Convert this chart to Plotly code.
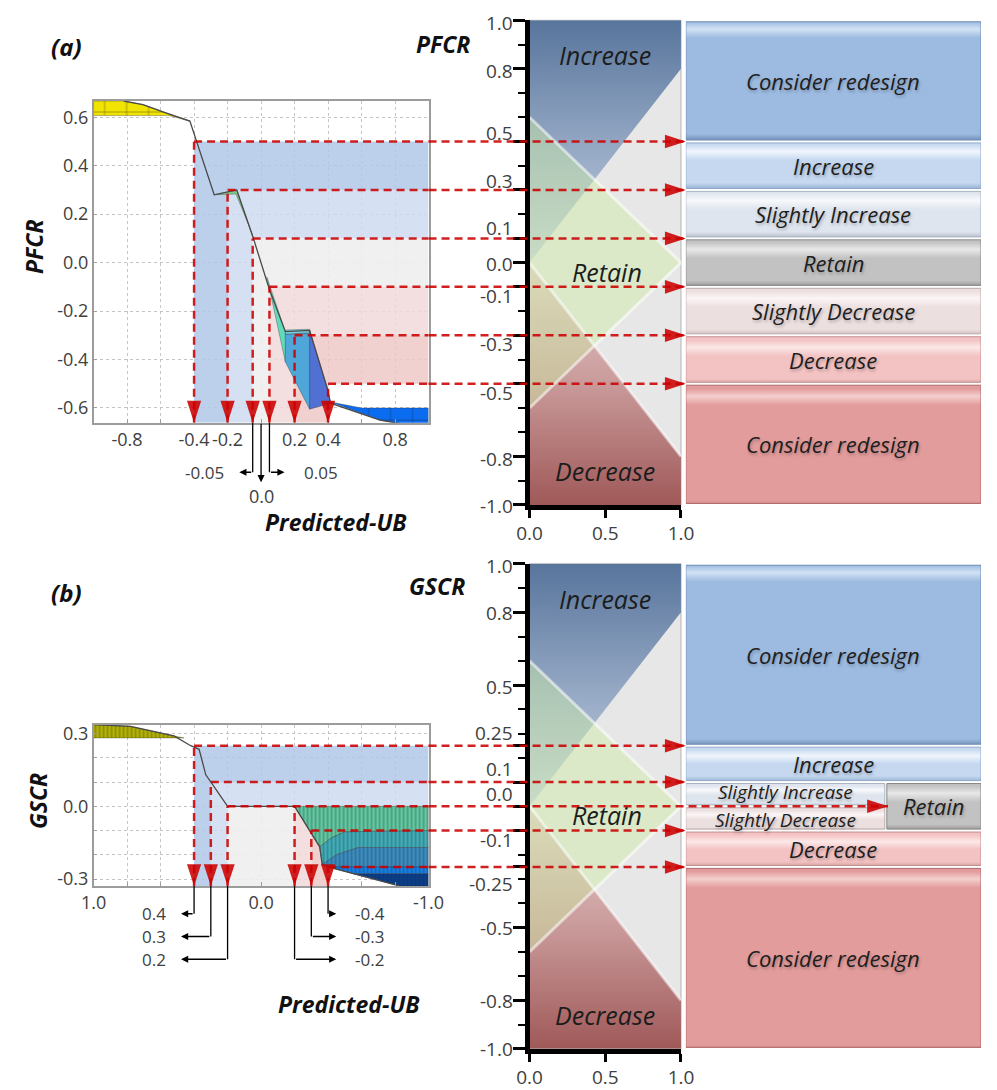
import plotly.graph_objects as go

W, H = 997, 1090
FONT = "Open Sans"

# ------------------------------------------------------------------ data
# membership functions of the linguistic scale (membership degree, value)
MF_INCREASE_MU = [0.0, 1.0, 1.0, 0.0]
MF_INCREASE_V = [0.0, 0.8, 1.0, 1.0]
MF_RETAIN_MU = [0.0, 1.0, 0.0]
MF_RETAIN_V = [0.6, 0.0, -0.6]
MF_DECREASE_MU = [0.0, 1.0, 1.0, 0.0]
MF_DECREASE_V = [0.0, -0.8, -1.0, -1.0]
MF_NAMES = ["Increase", "Retain", "Decrease"]
SCALE_X_TICKS = [0.0, 0.5, 1.0]
SCALE_X_TEXT = ["0.0", "0.5", "1.0"]

# (a) PFCR section of the response surface
PFCR_LINE_X = [-0.82, -0.705, -0.57, -0.425, -0.28, -0.145, -0.048, 0.048, 0.145, 0.29, 0.396, 0.415, 0.71, 0.85]
PFCR_LINE_Y = [0.667, 0.652, 0.618, 0.584, 0.28, 0.30, 0.105, -0.107, -0.285, -0.28, -0.52, -0.58, -0.65, -0.667]
PFCR_YELLOW_X = [-1.0, -0.82, -0.705, -0.57, -0.425, -0.55, -1.0]
PFCR_YELLOW_Y = [0.667, 0.667, 0.652, 0.618, 0.584, 0.607, 0.607]
PFCR_GREEN_X = [-0.28, -0.145, -0.048, -0.065, -0.15]
PFCR_GREEN_Y = [0.28, 0.30, 0.105, 0.14, 0.283]
PFCR_TEAL_X = [0.035, 0.145, 0.145]
PFCR_TEAL_Y = [-0.06, -0.285, -0.41]
PFCR_CYAN_X = [0.145, 0.29, 0.29, 0.145]
PFCR_CYAN_Y = [-0.295, -0.29, -0.605, -0.41]
PFCR_CYANTOP_X = [0.145, 0.29, 0.29, 0.145]
PFCR_CYANTOP_Y = [-0.278, -0.275, -0.29, -0.295]
PFCR_ROYAL_X = [0.29, 0.396, 0.415, 0.29]
PFCR_ROYAL_Y = [-0.28, -0.52, -0.58, -0.605]
PFCR_BLUE_X = [0.415, 0.6, 1.0, 1.0, 0.85, 0.71]
PFCR_BLUE_Y = [-0.575, -0.6, -0.6, -0.667, -0.667, -0.65]
PFCR_CUT_X = [-0.4, -0.2, -0.05, 0.05, 0.2, 0.4]
PFCR_CUT_Y = [0.5, 0.3, 0.1, -0.1, -0.3, -0.5]
PFCR_X_TICKS = [-0.8, -0.6, -0.4, -0.2, 0.0, 0.2, 0.4, 0.6, 0.8]
PFCR_X_TEXT = ["-0.8", "", "-0.4", "-0.2", "", "0.2", "0.4", "", "0.8"]
PFCR_Y_TICKS = [0.6, 0.4, 0.2, 0.0, -0.2, -0.4, -0.6]
PFCR_Y_TEXT = ["0.6", "0.4", "0.2", "0.0", "-0.2", "-0.4", "-0.6"]
PFCR_SCALE_TICKS = [1.0, 0.8, 0.5, 0.3, 0.1, 0.0, -0.1, -0.3, -0.5, -0.8, -1.0]
PFCR_SCALE_TEXT = ["1.0", "0.8", "0.5", "0.3", "0.1", "0.0", "-0.1", "-0.3", "-0.5", "-0.8", "-1.0"]
PFCR_CALLOUTS = [-0.05, 0.0, 0.05]
PFCR_BOX_TOP = [1.0, 0.5, 0.3, 0.1, -0.1, -0.3, -0.5]
PFCR_BOX_BOTTOM = [0.5, 0.3, 0.1, -0.1, -0.3, -0.5, -1.0]
PFCR_BOX_LABELS = ["Consider redesign", "Increase", "Slightly Increase", "Retain",
                   "Slightly Decrease", "Decrease", "Consider redesign"]

# (b) GSCR section of the response surface (Predicted-UB axis runs 1 -> -1)
GSCR_LINE_X = [1.0, 0.78, 0.52, 0.42, 0.37, 0.33, 0.29, 0.2, -0.2, -0.35, -0.365, -0.4, -0.83]
GSCR_LINE_Y = [0.337, 0.33, 0.29, 0.25, 0.235, 0.13, 0.09, 0.0, 0.0, -0.167, -0.24, -0.25, -0.329]
GSCR_OLIVE_X = [1.0, 0.78, 0.52, 0.46, 1.0]
GSCR_OLIVE_Y = [0.337, 0.33, 0.29, 0.282, 0.282]
GSCR_TG_X = [-0.2, -1.0, -1.0, -0.5, -0.42, -0.35]
GSCR_TG_Y = [0.0, 0.0, -0.1, -0.105, -0.13, -0.167]
GSCR_TEAL_X = [-0.35, -0.42, -0.5, -1.0, -1.0, -0.58, -0.45, -0.365]
GSCR_TEAL_Y = [-0.167, -0.13, -0.105, -0.1, -0.17, -0.17, -0.2, -0.24]
GSCR_STEEL_X = [-0.365, -0.45, -0.58, -1.0, -1.0, -0.4]
GSCR_STEEL_Y = [-0.24, -0.2, -0.17, -0.17, -0.25, -0.25]
GSCR_BRIGHT_X = [-0.4, -1.0, -1.0, -0.552]
GSCR_BRIGHT_Y = [-0.25, -0.25, -0.278, -0.278]
GSCR_NAVY_X = [-0.552, -1.0, -1.0, -0.83]
GSCR_NAVY_Y = [-0.278, -0.278, -0.329, -0.329]
GSCR_CUT_X = [0.4, 0.3, 0.2, -0.2, -0.3, -0.4]
GSCR_CUT_Y = [0.25, 0.1, 0.0, 0.0, -0.1, -0.25]
GSCR_X_TICKS = [1.0, 0.8, 0.6, 0.4, 0.2, 0.0, -0.2, -0.4, -0.6, -0.8, -1.0]
GSCR_X_TEXT = ["1.0", "", "", "", "", "0.0", "", "", "", "", "-1.0"]
GSCR_Y_TICKS = [0.3, 0.2, 0.1, 0.0, -0.1, -0.2, -0.3]
GSCR_Y_TEXT = ["0.3", "", "", "0.0", "", "", "-0.3"]
GSCR_SCALE_TICKS = [1.0, 0.8, 0.5, 0.25, 0.1, 0.0, -0.1, -0.25, -0.5, -0.8, -1.0]
GSCR_SCALE_TEXT = ["1.0", "0.8", "0.5", "0.25", "0.1", "0.0", "-0.1", "-0.25", "-0.5", "-0.8", "-1.0"]
GSCR_CALLOUTS = [0.4, 0.3, 0.2, -0.2, -0.3, -0.4]
GSCR_BOX_TOP = [1.0, 0.25, 0.1, 0.0, -0.1, -0.25, 0.1]
GSCR_BOX_BOTTOM = [0.25, 0.1, 0.0, -0.1, -0.25, -1.0, -0.1]
GSCR_BOX_LABELS = ["Consider redesign", "Increase", "Slightly Increase", "Slightly Decrease",
                   "Decrease", "Consider redesign", "Retain"]

# ------------------------------------------------------------------ style
LEFT_X_PX = (83, 428)
SCALE_X_PX = (532, 688)
BOX_X_PX = (693, 997)

BAND_COLORS = ["rgba(176,200,232,0.85)", "rgba(206,220,241,0.85)", "rgba(238,238,238,0.9)",
               "rgba(241,217,217,0.85)", "rgba(238,200,200,0.85)"]
RED = "rgba(204,0,0,0.88)"
DASH = dict(color=RED, width=2.5, dash="8px,5px")

BOX_STYLE = {  # body, highlight, dark edge
    "blue_redesign": ("#9dbbe1", "#d2e2f4", "#6d8bb3"),
    "increase": ("#c5d8f0", "#f0f5fc", "#8ea8c8"),
    "slight_inc": ("#dfe5ee", "#f7f9fb", "#a9b3c1"),
    "retain": ("#c2c2c2", "#e8e8e8", "#878787"),
    "slight_dec": ("#ecdfe0", "#fbf5f5", "#bda9aa"),
    "decrease": ("#f3c2c2", "#fce8e8", "#c38f8f"),
    "red_redesign": ("#e39c9c", "#f4cfcf", "#ae6868"),
}
MF_LABEL_POS = [(0.5, 0.855), (0.51, -0.037), (0.5, -0.86)]


def dom_x(px):
    return [px[0] / W, px[1] / W]


def dom_y(px):
    return [1 - px[1] / H, 1 - px[0] / H]


def val_from_px(p, span):
    top, bot = span
    return 1.0 - 2.0 * (p - top) / (bot - top)


def axis_key(a):
    return ("xaxis" if a[0] == "x" else "yaxis") + a[1:]


def font(size=18, color="#404040", bold=False, italic=False, shadow=None):
    f = dict(family=FONT, size=size, color=color)
    if bold:
        f["weight"] = "bold"
    if italic:
        f["style"] = "italic"
    if shadow:
        f["shadow"] = shadow
    return f


fig = go.Figure()
shapes, annots, axes = [], [], {}


def text(x, y, s, xref="paper", yref="paper", f=None, **kw):
    kw.setdefault("yanchor", "middle")
    kw.setdefault("xanchor", "center")
    annots.append(dict(x=x, y=y, xref=xref, yref=yref, text=s, showarrow=False,
                       font=f or font(), borderpad=0, **kw))


def poly(xs, ys, xa, ya, color, edge=None, pattern=None, gradient=None):
    kw = {}
    if pattern:
        kw["fillpattern"] = dict(pattern, bgcolor=color, fillmode="replace")
    if gradient:
        kw["fillgradient"] = gradient
    fig.add_trace(go.Scatter(
        x=list(xs) + [xs[0]], y=list(ys) + [ys[0]], xaxis=xa, yaxis=ya,
        mode="lines", fill="toself", fillcolor=color,
        line=dict(width=edge[1] if edge else 0, color=edge[0] if edge else color),
        hoverinfo="skip", showlegend=False, **kw))


STRIPES = dict(shape="|", size=4, solidity=0.28, fgcolor="rgba(10,45,45,0.45)")
MESH = dict(shape="+", size=22, solidity=0.06, fgcolor="rgba(30,30,30,0.55)")
EDGE = ("rgba(40,40,40,0.55)", 0.6)

PANELS = [
    dict(tag="(a)", name="PFCR", ids=("x", "y", "x2", "y2", "x3"),
         left_y_px=(98, 423), scale_y_px=(16.5, 506), x_range=[-1, 1],
         line=(PFCR_LINE_X, PFCR_LINE_Y),
         surfaces=[(PFCR_YELLOW_X, PFCR_YELLOW_Y, "#f1e400", MESH),
                   (PFCR_GREEN_X, PFCR_GREEN_Y, "#7ccc8a", None),
                   (PFCR_TEAL_X, PFCR_TEAL_Y, "#62dbbd", None),
                   (PFCR_CYAN_X, PFCR_CYAN_Y, "#4ea7d8", None),
                   (PFCR_CYANTOP_X, PFCR_CYANTOP_Y, "#76d3df", None),
                   (PFCR_ROYAL_X, PFCR_ROYAL_Y, "#5071d3", None),
                   (PFCR_BLUE_X, PFCR_BLUE_Y, "#0c6cf0", MESH)],
         cut=(PFCR_CUT_X, PFCR_CUT_Y), tips=[0, 0, 0, 0, 0, 0],
         xticks=(PFCR_X_TICKS, PFCR_X_TEXT), yticks=(PFCR_Y_TICKS, PFCR_Y_TEXT),
         scale=(PFCR_SCALE_TICKS, PFCR_SCALE_TEXT), scale_shift=[-3, -2, 8, 9, 10, -1, -9, -9, -9, -3, -1],
         callouts=PFCR_CALLOUTS,
         callout_geo=[(50, -0.13, "left"), (60, None, "down"), (50, 0.14, "right")],
         boxes=(PFCR_BOX_TOP, PFCR_BOX_BOTTOM, PFCR_BOX_LABELS),
         box_keys=["blue_redesign", "increase", "slight_inc", "retain", "slight_dec", "decrease", "red_redesign"],
         box_x=[(0, 1)] * 7, box_font=[22] * 7, box_shift=[0] * 7,
         tag_px=(55, 43), name_px=(443, 40), ytitle_px=(21, 245), xtitle_px=(333, 523)),
    dict(tag="(b)", name="GSCR", ids=("x4", "y4", "x5", "y5", "x6"),
         left_y_px=(728, 891), scale_y_px=(565.5, 1055.5), x_range=[1, -1],
         line=(GSCR_LINE_X, GSCR_LINE_Y),
         surfaces=[(GSCR_OLIVE_X, GSCR_OLIVE_Y, "#b9b300", STRIPES),
                   (GSCR_TG_X, GSCR_TG_Y, "#64c9a2", STRIPES),
                   (GSCR_TEAL_X, GSCR_TEAL_Y, "#43aebb", STRIPES),
                   (GSCR_STEEL_X, GSCR_STEEL_Y, "#3e8dc4", STRIPES),
                   (GSCR_BRIGHT_X, GSCR_BRIGHT_Y, "#1580e8", STRIPES),
                   (GSCR_NAVY_X, GSCR_NAVY_Y, "#0b3d8e", STRIPES)],
         cut=(GSCR_CUT_X, GSCR_CUT_Y), tips=[0, 0, 0.685, 0, 0],
         xticks=(GSCR_X_TICKS, GSCR_X_TEXT), yticks=(GSCR_Y_TICKS, GSCR_Y_TEXT),
         scale=(GSCR_SCALE_TICKS, GSCR_SCALE_TEXT), scale_shift=[-2, -1, -2, 13, 13, 12, -9, -17, 0, -1, 0],
         callouts=GSCR_CALLOUTS,
         callout_geo=[(28, 0.478, "left"), (51, 0.478, "left"), (74, 0.478, "left"),
                      (74, -0.449, "right"), (51, -0.449, "right"), (28, -0.449, "right")],
         boxes=(GSCR_BOX_TOP, GSCR_BOX_BOTTOM, GSCR_BOX_LABELS),
         box_keys=["blue_redesign", "increase", "slight_inc", "slight_dec", "decrease", "red_redesign", "retain"],
         box_x=[(0, 1), (0, 1), (0, 0.674), (0, 0.674), (0, 1), (0, 1), (0.681, 1)],
         box_font=[22, 22, 19, 19, 22, 22, 22], box_shift=[0, 0, 2, -2, 0, 0, 0],
         tag_px=(55, 595), name_px=(437, 588), ytitle_px=(26, 805), xtitle_px=(346, 1010)),
]

for p in PANELS:
    xl, yl, xm, ym, xb = p["ids"]
    span = p["scale_y_px"]
    left_h = p["left_y_px"][1] - p["left_y_px"][0]
    y_rng = [val_from_px(p["left_y_px"][1], span), val_from_px(p["left_y_px"][0], span)]
    y_floor = y_rng[0]
    x_end = p["x_range"][1]

    # ---------------- axes
    frame = dict(showgrid=True, gridcolor="#c4c4c4", griddash="dot", gridwidth=1, zeroline=False,
                 showline=True, linecolor="#9c9c9c", linewidth=1.5, mirror=True,
                 ticks="inside", ticklen=4, tickcolor="#9c9c9c", tickmode="array",
                 tickfont=font(18))
    axes[axis_key(xl)] = dict(frame, domain=dom_x(LEFT_X_PX), range=p["x_range"], anchor=yl,
                              tickvals=p["xticks"][0], ticktext=p["xticks"][1])
    axes[axis_key(yl)] = dict(frame, domain=dom_y(p["left_y_px"]), range=y_rng, anchor=xl,
                              tickvals=p["yticks"][0], ticktext=p["yticks"][1])
    axes[axis_key(xm)] = dict(domain=dom_x(SCALE_X_PX), range=[0, 1], anchor=ym, showgrid=False,
                              zeroline=False, showline=True, linecolor="black", linewidth=4.5,
                              ticks="outside", ticklen=8, tickwidth=2.5, tickcolor="black",
                              tickmode="array", tickvals=SCALE_X_TICKS, ticktext=SCALE_X_TEXT,
                              tickfont=font(19))
    axes[axis_key(ym)] = dict(domain=dom_y(span), range=[-1, 1], anchor=xm, showgrid=False,
                              zeroline=False, showline=True, linecolor="black", linewidth=4.5,
                              ticks="outside", ticklen=12, tickwidth=2.5, tickcolor="black",
                              tickmode="array", tickvals=p["scale"][0], showticklabels=False,
                              minor=dict(ticks="outside", ticklen=7, tickwidth=2, tickcolor="black",
                                         dtick=0.1, tick0=0, showgrid=False))
    axes[axis_key(xb)] = dict(domain=dom_x(BOX_X_PX), range=[0, 1], anchor=ym, visible=False)

    # ---------------- left section: L-shaped decision bands
    cx, cy = p["cut"]
    for i, col in enumerate(BAND_COLORS):
        xo, xi, yt, yb = cx[i], cx[i + 1], cy[i], cy[i + 1]
        poly([xo, xo, x_end, x_end, xi, xi], [y_floor, yt, yt, yb, yb, y_floor], xl, yl, col)

    for xs, ys, col, pat in p["surfaces"]:
        poly(xs, ys, xl, yl, col, edge=EDGE, pattern=pat)

    fig.add_trace(go.Scatter(x=p["line"][0], y=p["line"][1], xaxis=xl, yaxis=yl, mode="lines",
                             line=dict(color="#4a4a4a", width=1.3), hoverinfo="skip", showlegend=False))

    # ---------------- scale panel: membership functions
    shapes.append(dict(type="rect", xref=f"{xm} domain", yref=f"{ym} domain", x0=0, x1=1, y0=0, y1=1,
                       fillcolor="#e7e7e7", line=dict(color="#b4b4b4", width=1), layer="below"))
    poly(MF_INCREASE_MU, MF_INCREASE_V, xm, ym, "#8fa4c0",
         gradient=dict(type="vertical", start=0, stop=1,
                       colorscale=[[0, "rgb(200,210,224)"], [0.45, "rgb(152,171,198)"], [1, "rgb(88,117,156)"]]))
    poly(MF_DECREASE_MU, MF_DECREASE_V, xm, ym, "#c59a9a",
         gradient=dict(type="vertical", start=-1, stop=0,
                       colorscale=[[0, "rgb(158,86,86)"], [0.55, "rgb(204,158,158)"], [1, "rgb(228,206,204)"]]))
    poly(MF_RETAIN_MU, MF_RETAIN_V, xm, ym, "rgba(205,235,165,0.45)")
    # glossy rims along the membership edges
    for mus, vs in ((MF_DECREASE_MU[:2], MF_DECREASE_V[:2]), (MF_RETAIN_MU[:2], MF_RETAIN_V[:2]),
                    (MF_RETAIN_MU[1:], MF_RETAIN_V[1:])):
        fig.add_trace(go.Scatter(x=mus, y=vs, xaxis=xm, yaxis=ym, mode="lines",
                                 line=dict(color="rgba(255,255,255,0.55)", width=3),
                                 hoverinfo="skip", showlegend=False))
    for name, (mu, v) in zip(MF_NAMES, MF_LABEL_POS):
        text(mu, v, name, xref=xm, yref=ym, f=font(25, "#1c1c1c", italic=True))
    for v, s, sh in zip(p["scale"][0], p["scale"][1], p["scale_shift"]):
        text(0, v, s, xref=f"{xm} domain", yref=ym, f=font(19), xanchor="right", xshift=-16, yshift=sh)

    # ---------------- category boxes
    tops, bots, labels = p["boxes"]
    for top, bot, lab, key, (bx0, bx1), fs, sh in zip(tops, bots, labels, p["box_keys"], p["box_x"],
                                                      p["box_font"], p["box_shift"]):
        body, light, dark = BOX_STYLE[key]
        yb, yt = bot + 0.006, top - 0.006
        f = min(0.03, 0.2 * (yt - yb)) / (yt - yb)
        cs = [[0, dark], [f, body], [1 - 2.2 * f, body], [1 - f, light], [1, body]]
        poly([bx0, bx1, bx1, bx0], [yb, yb, yt, yt], xb, ym, body, edge=(dark, 1),
             gradient=dict(type="vertical", start=yb, stop=yt, colorscale=cs))
        text((bx0 + bx1) / 2, (top + bot) / 2, lab, xref=xb, yref=ym, yshift=sh,
             f=font(fs, "#1e1e1e", italic=True, shadow="1px 2px 3px rgba(0,0,0,0.25)"))

    # ---------------- dashed read-off lines
    levels, tips = [], []
    for x, y in zip(cx, cy):
        shapes.append(dict(type="line", xref=xl, yref=yl, x0=x, x1=x, y0=y_floor, y1=y, line=DASH))
        if y in levels:
            continue
        levels.append(y)
        tip = p["tips"][len(tips)]
        tips.append(tip)
        shapes.append(dict(type="line", xref=xl, yref=yl, x0=x, x1=x_end, y0=y, y1=y, line=DASH))
        tip_px = BOX_X_PX[0] + tip * (BOX_X_PX[1] - BOX_X_PX[0])
        shapes.append(dict(type="line", xref="paper", yref=ym, x0=LEFT_X_PX[1] / W, x1=tip_px / W,
                           y0=y, y1=y, line=DASH))
    fig.add_trace(go.Scatter(x=cx, y=[y_floor] * len(cx), xaxis=xl, yaxis=yl, mode="markers",
                             marker=dict(symbol="arrow", angle=180, size=23, color=RED),
                             cliponaxis=False, hoverinfo="skip", showlegend=False))
    fig.add_trace(go.Scatter(x=tips, y=levels, xaxis=xb, yaxis=ym, mode="markers",
                             marker=dict(symbol="arrow", angle=90, size=22, color=RED),
                             cliponaxis=False, hoverinfo="skip", showlegend=False))

    # ---------------- callouts under the Predicted-UB axis
    for v, (depth, head, side) in zip(p["callouts"], p["callout_geo"]):
        lab = "0.0" if v == 0 else f"{v:g}"
        yd = -depth / left_h
        arrow = dict(showarrow=True, arrowhead=2, arrowsize=1.1, arrowwidth=1.3, arrowcolor="black",
                     text="", standoff=0)
        if side == "down":
            annots.append(dict(arrow, x=v, y=yd, xref=xl, yref=f"{yl} domain", ax=0, ay=-depth,
                               axref="pixel", ayref="pixel"))
            text(v, yd, lab, xref=xl, yref=f"{yl} domain", f=font(18), yanchor="top", yshift=-1)
            continue
        shapes.append(dict(type="line", xref=xl, yref=f"{yl} domain", x0=v, x1=v, y0=0, y1=yd,
                           line=dict(color="black", width=1.3)))
        annots.append(dict(arrow, x=head, y=yd, xref=xl, yref=f"{yl} domain", ax=v, ay=0,
                           axref=xl, ayref="pixel"))
        text(head, yd, lab, xref=xl, yref=f"{yl} domain", f=font(17),
             xanchor="right" if side == "left" else "left", xshift=-14 if side == "left" else 18)

    # ---------------- titles
    bi = font(23, "#111111", bold=True, italic=True)
    text(p["tag_px"][0] / W, 1 - p["tag_px"][1] / H, p["tag"], f=font(24, "#111111", bold=True, italic=True))
    text(p["name_px"][0] / W, 1 - p["name_px"][1] / H, p["name"], f=bi)
    text(p["ytitle_px"][0] / W, 1 - p["ytitle_px"][1] / H, p["name"], f=bi, textangle=-90)
    text(p["xtitle_px"][0] / W, 1 - p["xtitle_px"][1] / H, "Predicted-UB", f=bi)

fig.update_layout(width=W, height=H, margin=dict(l=0, r=0, t=0, b=0),
                  paper_bgcolor="white", plot_bgcolor="white", showlegend=False,
                  hovermode=False, shapes=shapes, annotations=annots, **axes)
fig.write_html("out.html")
